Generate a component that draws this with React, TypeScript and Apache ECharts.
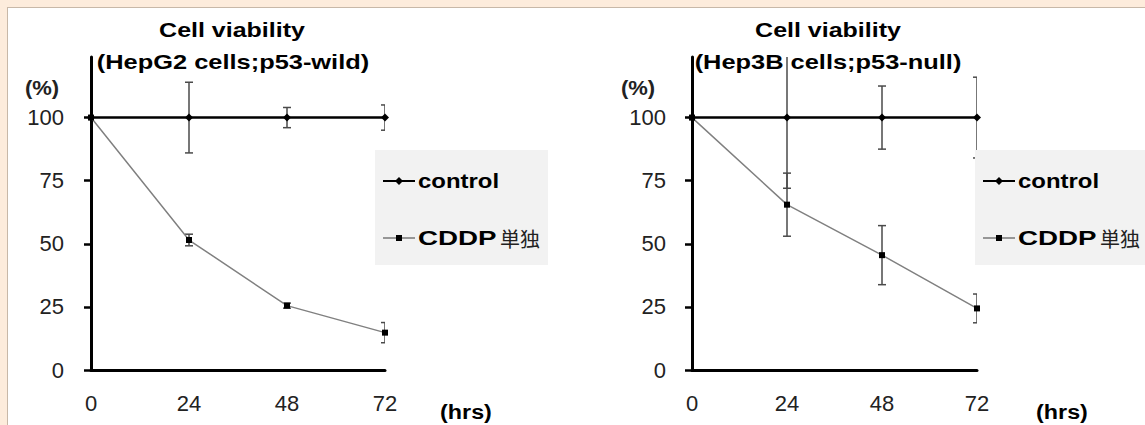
import React, { useEffect, useRef } from "react";
import * as echarts from "echarts";

const hours = [0, 24, 48, 72];
const xTicks = [0, 24, 48, 72];
const yTicks = [0, 25, 50, 75, 100];

const hepg2Control = [100, 100, 100, 100];
const hepg2ControlErr = [0, 14, 4, 5];
const hepg2Cddp = [100, 51.5, 25.5, 14.8];
const hepg2CddpErr = [0, 2.3, 1, 4];

const hep3bControl = [100, 100, 100, 100];
const hep3bControlErr = [0, 28, 12.5, 16];
const hep3bCddp = [100, 65.5, 45.5, 24.4];
const hep3bCddpErr = [0, 12.5, 11.7, 5.7];

const titles = [
  ["Cell viability", "(HepG2 cells;p53-wild)"],
  ["Cell viability", "(Hep3B cells;p53-null)"],
];
const legendNames = ["control", "CDDP", "単独"];
const yUnit = "(%)";
const xUnit = "(hrs)";

const FONT = '"Liberation Sans", Arial, sans-serif';

function pts(vals: number[]) {
  return hours.map((h, i) => [h, vals[i]]);
}
function errPts(vals: number[], errs: number[]) {
  return hours.map((h, i) => [h, vals[i], errs[i]]);
}

function errRender(params: any, api: any) {
  const x = api.value(0);
  const y = api.value(1);
  const e = api.value(2);
  if (!e) return { type: "group", children: [] };
  const top = api.coord([x, y + e]);
  const bot = api.coord([x, y - e]);
  const w = 4;
  const style = { stroke: "#4a4a4a", lineWidth: 1.5 };
  return {
    type: "group",
    children: [
      { type: "line", shape: { x1: top[0], y1: top[1], x2: bot[0], y2: bot[1] }, style },
      { type: "line", shape: { x1: top[0] - w, y1: top[1], x2: top[0] + w, y2: top[1] }, style },
      { type: "line", shape: { x1: bot[0] - w, y1: bot[1], x2: bot[0] + w, y2: bot[1] }, style },
    ],
  };
}

function txt(x: number, y: number, text: string, font: string, align: string, scaleX = 1, fill = "#000") {
  return {
    type: "text",
    x,
    y,
    scaleX,
    z: 110,
    style: {
      text,
      font,
      fill,
      align,
      verticalAlign: "middle",
      textAlign: align,
      textVerticalAlign: "middle",
    },
  };
}

function legendGroup(bx: number, bw: number, lx: number) {
  const mid = lx + 16;
  return [
    { type: "rect", z: 100, shape: { x: bx, y: 142, width: bw, height: 115 }, style: { fill: "#f2f2f2" } },
    { type: "line", z: 105, shape: { x1: lx, y1: 173, x2: lx + 32, y2: 173 }, style: { stroke: "#000", lineWidth: 2 } },
    {
      type: "polygon",
      z: 106,
      shape: { points: [[mid, 169], [mid + 4, 173], [mid, 177], [mid - 4, 173]] },
      style: { fill: "#000" },
    },
    { type: "line", z: 105, shape: { x1: lx, y1: 230, x2: lx + 32, y2: 230 }, style: { stroke: "#777", lineWidth: 1.5 } },
    { type: "rect", z: 106, shape: { x: mid - 3, y: 227, width: 6, height: 6 }, style: { fill: "#000" } },
    txt(lx + 35, 173, legendNames[0], "bold 21px " + FONT, "left", 1.14),
    txt(lx + 35, 230, legendNames[1], "bold 21px " + FONT, "left", 1.32),
    txt(lx + 117, 230, legendNames[2], '20px "Noto Sans CJK JP"', "left", 1, "#222"),
  ];
}

function xAxisDef(gridIndex: number) {
  return {
    type: "value",
    gridIndex,
    min: 0,
    max: 72,
    interval: 24,
    axisLine: { show: true, onZero: false, lineStyle: { color: "#000", width: 3 } },
    axisTick: { show: false },
    splitLine: { show: false },
    axisLabel: { color: "#222", fontSize: 22, fontFamily: FONT, margin: 22, customValues: xTicks },
  };
}
function yAxisDef(gridIndex: number, margin: number) {
  return {
    type: "value",
    gridIndex,
    min: 0,
    max: 124,
    axisLine: { show: true, onZero: false, lineStyle: { color: "#000", width: 3 } },
    axisTick: { show: true, length: 7, customValues: yTicks, lineStyle: { color: "#000", width: 2.5 } },
    splitLine: { show: false },
    axisLabel: { color: "#222", fontSize: 22, fontFamily: FONT, margin, customValues: yTicks },
  };
}

function seriesFor(idx: number, ctl: number[], ctlErr: number[], cd: number[], cdErr: number[]) {
  return [
    {
      type: "custom",
      xAxisIndex: idx,
      yAxisIndex: idx,
      renderItem: errRender,
      clip: true,
      encode: { x: 0, y: 1 },
      data: errPts(ctl, ctlErr),
      z: 3,
    },
    {
      type: "custom",
      xAxisIndex: idx,
      yAxisIndex: idx,
      renderItem: errRender,
      clip: true,
      encode: { x: 0, y: 1 },
      data: errPts(cd, cdErr),
      z: 3,
    },
    {
      type: "line",
      name: "control",
      xAxisIndex: idx,
      yAxisIndex: idx,
      data: pts(ctl),
      symbol: "diamond",
      symbolSize: 8,
      lineStyle: { color: "#000", width: 2.5 },
      itemStyle: { color: "#000" },
      z: 4,
    },
    {
      type: "line",
      name: "CDDP単独",
      xAxisIndex: idx,
      yAxisIndex: idx,
      data: pts(cd),
      symbol: "rect",
      symbolSize: 6,
      lineStyle: { color: "#808080", width: 1.5 },
      itemStyle: { color: "#000" },
      z: 4,
    },
  ];
}

export default function App() {
  const ref = useRef<HTMLDivElement>(null);
  useEffect(() => {
    if (!ref.current) return;
    const chart = echarts.init(ref.current, null, { renderer: "svg" });
    const titleFont = "bold 21px " + FONT;
    chart.setOption({
      animation: false,
      backgroundColor: "#ffffff",
      grid: [
        { left: 83, top: 49, width: 294, height: 313 },
        { left: 684, top: 49, width: 285, height: 313 },
      ],
      xAxis: [xAxisDef(0), xAxisDef(1)],
      yAxis: [yAxisDef(0, 27), yAxisDef(1, 26)],
      series: [
        ...seriesFor(0, hepg2Control, hepg2ControlErr, hepg2Cddp, hepg2CddpErr),
        ...seriesFor(1, hep3bControl, hep3bControlErr, hep3bCddp, hep3bCddpErr),
      ],
      graphic: [
        txt(224, 22, titles[0][0], titleFont, "center", 1.19),
        txt(225, 54, titles[0][1], titleFont, "center", 1.21),
        txt(820, 22, titles[1][0], titleFont, "center", 1.19),
        txt(820, 54, titles[1][1], titleFont, "center", 1.21),
        txt(34, 80, yUnit, "bold 20px " + FONT, "center", 1.1, "#222"),
        txt(630, 80, yUnit, "bold 20px " + FONT, "center", 1.1, "#222"),
        txt(458, 404, xUnit, "bold 21px " + FONT, "center", 1.11),
        txt(1054, 404, xUnit, "bold 21px " + FONT, "center", 1.11),
        ...legendGroup(367, 173, 375),
        ...legendGroup(967, 170, 975),
      ],
    });
    return () => chart.dispose();
  }, []);
  return (
    <div style={{ position: "fixed", left: 0, top: 0, width: 1145, height: 425, background: "#fdecdc" }}>
      <div
        style={{
          position: "absolute",
          left: 7,
          top: 7,
          borderLeft: "1px solid #c8b8a8",
          borderTop: "1px solid #c8b8a8",
        }}
      >
        <div ref={ref} style={{ width: 1137, height: 417, background: "#fff" }} />
      </div>
    </div>
  );
}
